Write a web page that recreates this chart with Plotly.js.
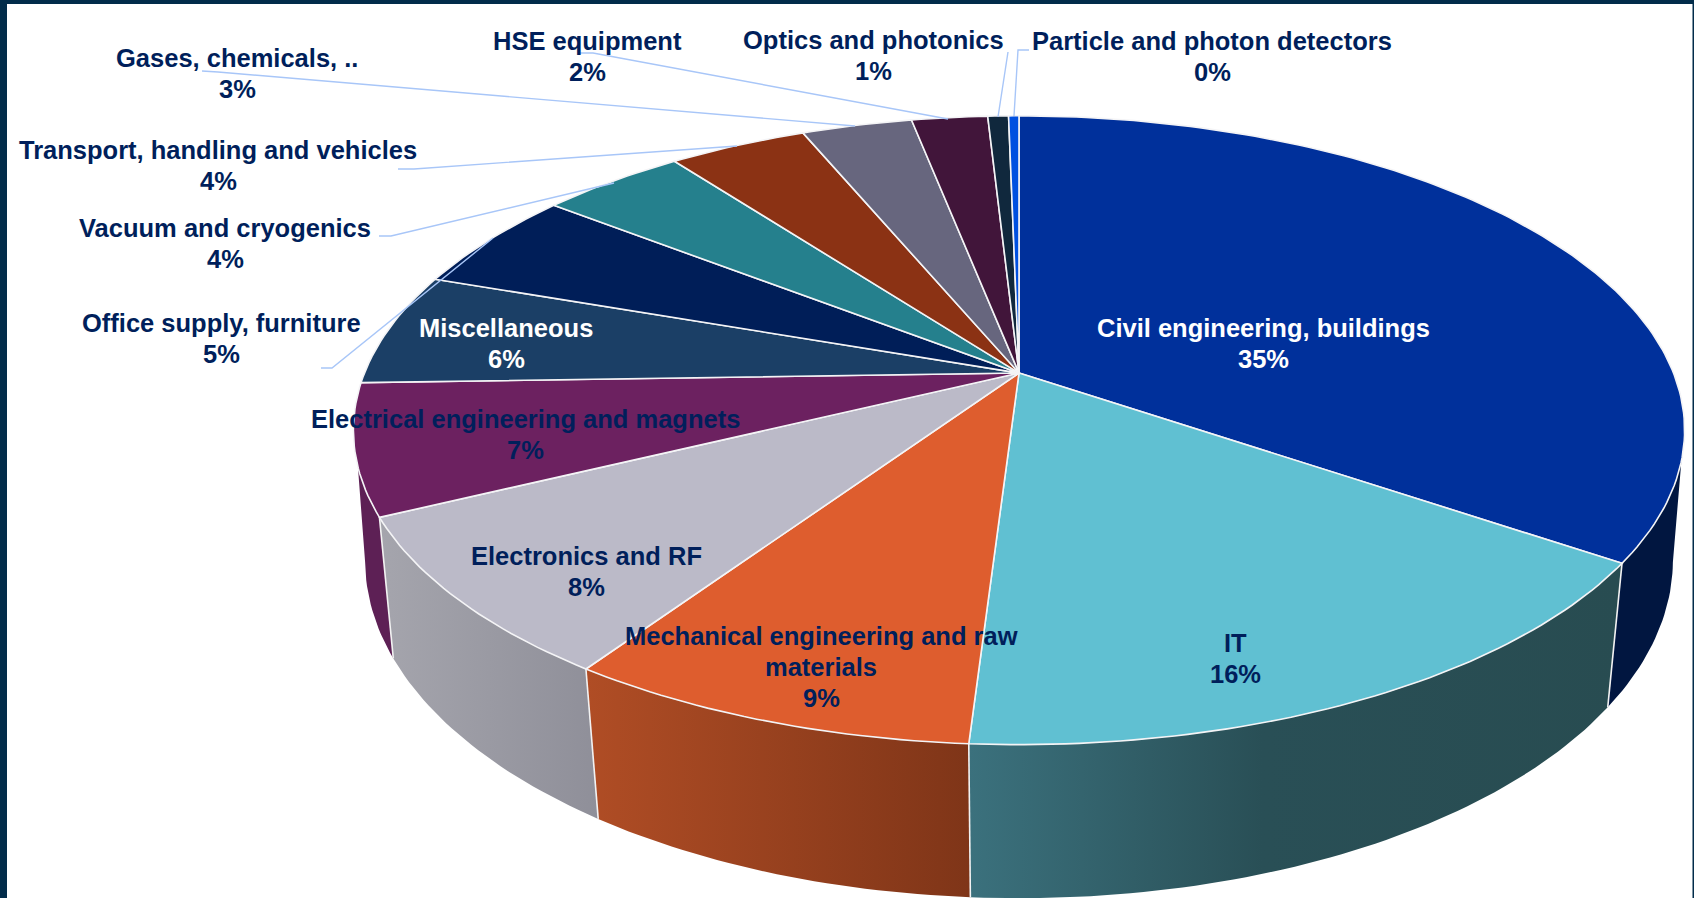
<!DOCTYPE html>
<html>
<head>
<meta charset="utf-8">
<script src="https://cdn.plot.ly/plotly-3.0.1.min.js"></script>
<style>html,body{margin:0;padding:0;background:#fff;overflow:hidden}#chart{width:1694px;height:898px}</style>
</head>
<body>
<div id="chart"></div>
<script>
// ---- data ----
const categories = ["Civil engineering, buildings","IT","Mechanical engineering and raw<br>materials","Electronics and RF","Electrical engineering and magnets","Miscellaneous","Office supply, furniture","Vacuum and cryogenics","Transport, handling and vehicles","Gases, chemicals, ..","HSE equipment","Optics and photonics","Particle and photon detectors"];
const shares = [34.5,16.5,8.5,8.3,6.7,5.8,5.2,4.2,4.0,3.2,2.2,0.6,0.3];
const percentLabels = ["35%","16%","9%","8%","7%","6%","5%","4%","4%","3%","2%","1%","0%"];

// ---- styling and layout, kept apart from the data ----
const topColors = ["#00309b","#60c0d2","#de5d2e","#bbbac8","#6c2160","#1b3f66","#001e58","#25808d","#8b3214","#67667e","#41153a","#10283d","#0050e0"];
const wallScales = {
  0:[[0,"#011640"],[1,"#011640"]],
  1:[[0,"#3b717d"],[0.45,"#294f56"],[1,"#284c51"]],
  2:[[0,"#b04d25"],[1,"#7f3518"]],
  3:[[0,"#a5a5ad"],[1,"#8f8f99"]],
  4:[[0,"#5d2055"],[1,"#5d2055"]]
};
const labelColors = ["#ffffff","#001f5b","#001f5b","#001f5b","#001f5b","#ffffff","#001f5b","#001f5b","#001f5b","#001f5b","#001f5b","#001f5b","#001f5b"];
const labelX = [1263,1235,821,586,525,506,221,225,218,237,587,873,1212];
const labelY = [343,658,667,571,434,343,338,243,165,73,56,55,56];
const labelLineStep = 31;
const leaderPaths = [
  [[321,368],[332,368],[493,238]],
  [[379,236],[391,236],[614,183]],
  [[398,169],[414,169],[737,146]],
  [[202,71],[218,72],[855,126]],
  [[580,53],[593,53],[948,119]],
  [[1008,52],[998,117]],
  [[1029,50],[1018,50],[1014,116]]
];

// perspective projection of the pie's top and bottom discs on to the page
const topDisc = {cx:1019, cy:373, a:654.5, b:304, k:0.182};
const botDisc = {cx:1019, cy:503.5, a:644.6, b:328.4, k:0.168};
function project(d, deg){
  const t = deg*Math.PI/180, u = Math.sin(t), v = -Math.cos(t), w = 1-d.k*v;
  return [d.cx+d.a*u/w, d.cy+d.b*v/w];
}
function arc(d, from, to){
  const n = Math.max(2, Math.ceil(Math.abs(to-from)/1.0)), out = [];
  for(let i=0;i<=n;i++) out.push(project(d, from+(to-from)*i/n));
  return out;
}
const total = shares.reduce((a,b)=>a+b,0);
let run = 0;
const edges = [0].concat(shares.map(s=>(run+=s)/total*360));

const traces = [];
const silhouette = {topR:106, botR:100, topL:253, botL:260};

// side walls, front part only; the top discs cover the rest
shares.forEach((s,i)=>{
  const a0 = edges[i], a1 = edges[i+1];
  if(!wallScales[i]) return;
  const topFrom = Math.max(a0, silhouette.topR), topTo = Math.min(a1, silhouette.topL);
  const botFrom = Math.max(a0, silhouette.botR), botTo = Math.min(a1, silhouette.botL);
  const pts = arc(topDisc, topFrom, topTo).concat(arc(botDisc, botTo, botFrom));
  traces.push({type:"scatter",mode:"lines",x:pts.map(p=>p[0]),y:pts.map(p=>p[1]),fill:"toself",
    line:{width:0,color:"rgba(0,0,0,0)"},fillgradient:{type:"horizontal",colorscale:wallScales[i]},
    hoverinfo:"skip",showlegend:false});
});
// white seams between wall segments
edges.forEach(e=>{
  if(e<silhouette.topR||e>silhouette.topL) return;
  const p = project(topDisc,e), q = project(botDisc,e);
  traces.push({type:"scatter",mode:"lines",x:[p[0],q[0]],y:[p[1],q[1]],line:{color:"#f2f2f2",width:1.6},hoverinfo:"skip",showlegend:false});
});
// top surface
shares.forEach((s,i)=>{
  const pts = [[topDisc.cx,topDisc.cy]].concat(arc(topDisc,edges[i],edges[i+1]),[[topDisc.cx,topDisc.cy]]);
  traces.push({type:"scatter",mode:"lines",x:pts.map(p=>p[0]),y:pts.map(p=>p[1]),fill:"toself",fillcolor:topColors[i],
    line:{color:"#f4f4f6",width:1.6},name:categories[i].replace("<br>"," "),
    text:categories[i].replace("<br>"," ")+": "+percentLabels[i],hoveron:"fills",hoverinfo:"text",showlegend:false});
});
// leader lines
leaderPaths.forEach(path=>{
  traces.push({type:"scatter",mode:"lines",x:path.map(p=>p[0]),y:path.map(p=>p[1]),
    line:{color:"#a8c6f8",width:1.4},hoverinfo:"skip",showlegend:false});
});

// every label line is its own annotation so that the line pitch can follow the picture
const annotations = [];
categories.forEach((c,i)=>{
  const lines = c.split("<br>").concat([percentLabels[i]]);
  lines.forEach((line,j)=>{
    annotations.push({
      x:labelX[i],y:labelY[i]+(j-(lines.length-1)/2)*labelLineStep,xref:"x",yref:"y",text:"<b>"+line+"</b>",
      showarrow:false,xanchor:"center",yanchor:"middle",align:"center",
      font:{family:"Liberation Sans, Arial, sans-serif",size:25.5,color:labelColors[i]}
    });
  });
});

const frame = "#022c4a";
const layout = {
  width:1694,height:898,margin:{l:0,r:0,t:0,b:0,pad:0},
  paper_bgcolor:"#ffffff",plot_bgcolor:"#ffffff",showlegend:false,
  xaxis:{range:[0,1694],visible:false,fixedrange:true},
  yaxis:{range:[898,0],visible:false,fixedrange:true},
  annotations:annotations,
  shapes:[
    {type:"rect",xref:"x",yref:"y",x0:0,x1:1694,y0:0,y1:4,fillcolor:frame,line:{width:0}},
    {type:"rect",xref:"x",yref:"y",x0:0,x1:7,y0:0,y1:898,fillcolor:frame,line:{width:0}},
    {type:"rect",xref:"x",yref:"y",x0:1692.5,x1:1694,y0:0,y1:898,fillcolor:frame,line:{width:0}}
  ]
};
Plotly.newPlot("chart",traces,layout,{displayModeBar:false,responsive:false});
</script>
</body>
</html>
